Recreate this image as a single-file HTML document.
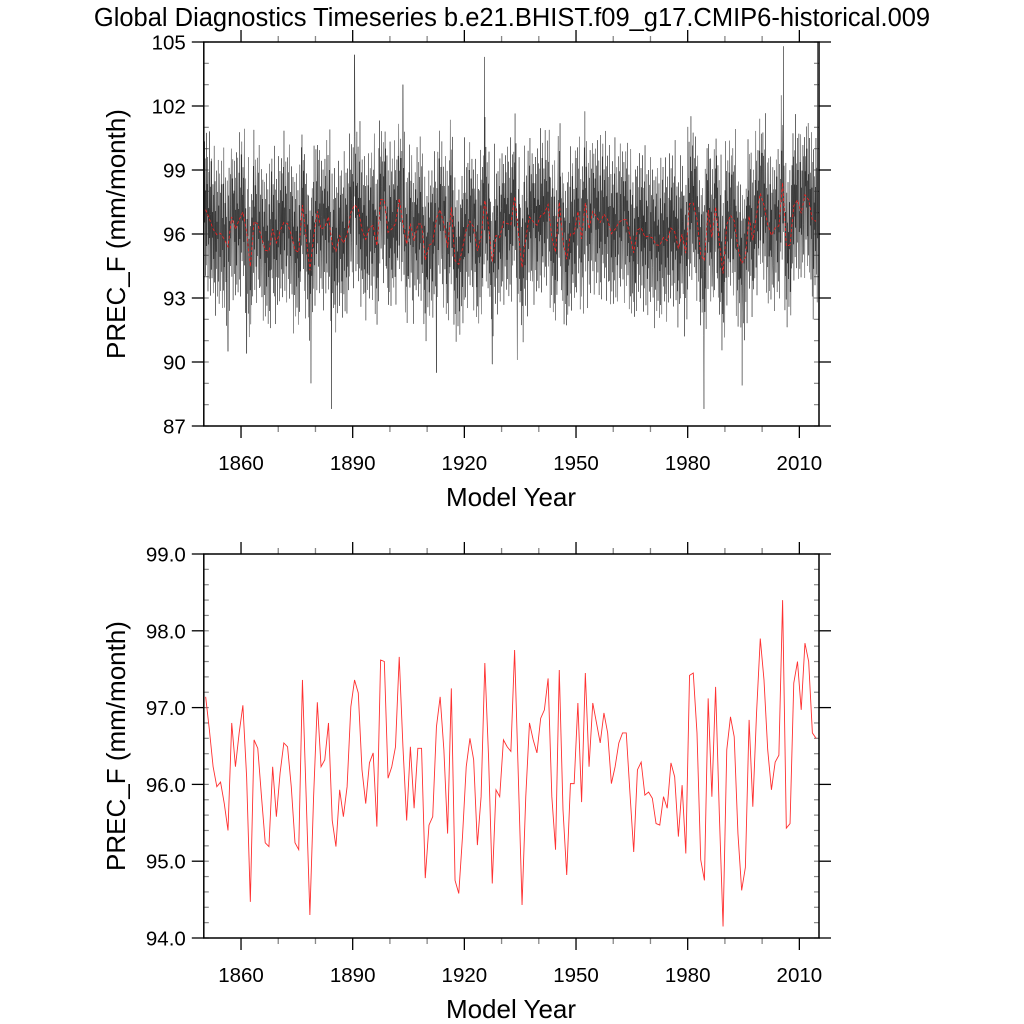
<!DOCTYPE html>
<html><head><meta charset="utf-8">
<style>
html,body{margin:0;padding:0;background:#fff;}
svg{display:block;font-family:"Liberation Sans",Arial,sans-serif;}
</style></head>
<body>
<svg id="c" width="1024" height="1024" viewBox="0 0 1024 1024" xmlns="http://www.w3.org/2000/svg">
<text x="512" y="26" font-size="25.5" text-anchor="middle">Global Diagnostics Timeseries b.e21.BHIST.f09_g17.CMIP6-historical.009</text>
</svg>
<script>
const annual = [97.14,96.71,96.23,95.97,96.03,95.75,95.4,96.8,96.23,96.67,97.03,96.1,94.47,96.58,96.47,95.84,95.24,95.19,96.23,95.58,96.15,96.54,96.49,95.97,95.24,95.15,97.36,95.84,94.3,95.84,97.07,96.23,96.32,96.8,95.53,95.19,95.93,95.58,95.97,97.01,97.36,97.19,96.19,95.75,96.28,96.41,95.45,97.62,97.6,96.08,96.23,96.49,97.66,96.49,95.53,96.49,95.69,96.47,96.47,94.78,95.47,95.58,96.75,97.14,96.45,95.36,97.25,94.75,94.58,95.32,96.23,96.6,96.32,95.21,95.84,97.58,96.36,94.71,95.93,95.84,96.58,96.49,96.43,97.75,96.1,94.43,95.84,96.8,96.58,96.41,96.86,96.97,97.38,95.84,95.15,97.49,95.67,94.82,96.01,96.01,97.06,95.77,97.45,96.23,97.06,96.8,96.54,96.93,96.67,96.01,96.23,96.54,96.67,96.67,95.88,95.12,96.19,96.29,95.86,95.9,95.82,95.49,95.47,95.84,95.69,96.28,96.1,95.32,95.99,95.1,97.42,97.45,96.67,95.02,94.75,97.12,95.84,97.27,95.62,94.15,96.45,96.88,96.62,95.36,94.62,94.92,96.84,95.71,96.93,97.9,97.36,96.45,95.93,96.29,96.38,98.4,95.43,95.49,97.32,97.6,96.97,97.84,97.6,96.67,96.6];
const monthlyOffsets = [1.8,-2.1,3.2,-0.6,2.4,-3.1,0.9,-1.7,3.6,-2.6,1.2,-0.3,2.9,-3.4,0.5,-1.2,2.2,-2.8,4.1,-0.9,1.5,-3.6,0.2,2.7,-1.9,3.3,-2.3,0.8,-0.4,2.1,-3.0,1.6,-1.4,3.9,-2.5,0.3,2.5,-3.8,1.1,-0.8,3.0,-1.6,0.6,-2.9,2.0,-0.2,3.5,-2.2,1.3,-3.3,0.4,2.8,-1.1,1.9,-2.7,0.0,3.4,-1.8,2.3,-3.5,1.0,-0.5,2.6,-2.4,4.3,-1.3,0.7,-3.2,1.7,-0.1,2.9,-2.0,1.4,-3.7,0.9,3.1,-1.5,0.1,-2.6,2.4,-0.7,3.7,-3.0,1.2,-1.0,2.0,-2.3,0.6,3.2,-1.4,-2.8,1.8,-0.3,2.7,-3.9,1.1,0.4];
const spikeYears = [1850.05,1856.5,1861.5,1878.8,1884.3,1890.5,1903.5,1912.5,1925.4,1927.5,1934.2,1984.4,1994.6,2005.7,2013.7,2014.9];
const spikeValues = [102.5,90.5,90.4,89.0,87.8,104.4,103.0,89.5,104.3,89.9,90.1,87.8,88.9,104.8,92.0,105.0];
const yTicksTop = [87,90,93,96,99,102,105];
const yTicksBot = ["94.0","95.0","96.0","97.0","98.0","99.0"];
const xTicks = [1860,1890,1920,1950,1980,2010];

const svg = document.getElementById('c');
const NS = 'http://www.w3.org/2000/svg';
function el(tag, attrs, parent){const e=document.createElementNS(NS,tag);for(const k in attrs)e.setAttribute(k,attrs[k]);(parent||svg).appendChild(e);return e;}
const X0=203.8, X1=819, YR0=1850, YR1=1850+(819-203.8)/3.7222;
const xs = yr => X0+(yr-YR0)/(YR1-YR0)*(X1-X0);

function panel(top, bot, ymin, ymax, majorStep, minorStep, labels, name){
  const ys = v => bot-(v-ymin)/(ymax-ymin)*(bot-top);
  const g = el('g',{});
  
  
  for(let v=ymin; v<=ymax+1e-9; v+=minorStep){
    const y=ys(v);
    el('line',{x1:X0,x2:X0+5,y1:y,y2:y,stroke:'#888','stroke-width':1.2},g);
    el('line',{x1:X1,x2:X1-5,y1:y,y2:y,stroke:'#888','stroke-width':1.2},g);
  }
  labels.forEach(lab=>{
    const v=parseFloat(lab), y=ys(v);
    el('line',{x1:X0-12,x2:X0,y1:y,y2:y,stroke:'#000','stroke-width':1.3},g);
    el('line',{x1:X1,x2:X1+12,y1:y,y2:y,stroke:'#000','stroke-width':1.3},g);
    const t=el('text',{x:X0-18,y:y+7.5,'font-size':20.5,'text-anchor':'end'},g);
    t.textContent=lab;
    
    
  });
  for(let yr=1860; yr<=2010; yr+=10){
    const x=xs(yr), major=(yr-1860)%30===0;
    const L = major?12:6;
    el('line',{x1:x,x2:x,y1:bot,y2:bot+L,stroke:major?'#000':'#888','stroke-width':1.3},g);
    el('line',{x1:x,x2:x,y1:top,y2:top-L,stroke:major?'#000':'#888','stroke-width':1.3},g);
  }
  xTicks.forEach(yr=>{
    const t=el('text',{x:xs(yr),y:bot+44,'font-size':20.5,'text-anchor':'middle'},g);
    t.textContent=String(yr);
    
    
  });
  const xt=el('text',{x:511,y:bot+80,'font-size':26,'text-anchor':'middle'},g);
  xt.textContent='Model Year';
  
  
  const cy=(top+bot)/2;
  const yt=el('text',{x:125,y:cy,'font-size':26,'text-anchor':'middle',transform:'rotate(-90 125 '+cy+')'},g);
  yt.textContent='PREC_F (mm/month)';
  
  
  return {ys,g};
}

const P1 = panel(42,426,87,105,3,1,yTicksTop.map(String),'top-panel');
const cp1 = el('clipPath',{id:'cp1'}); el('rect',{x:X0,y:42,width:X1-X0,height:384},cp1);
let pts=[];
const nM = annual.length*12;
for(let i=0;i<nM;i++){
  const yr = YR0+(i+0.5)/12;
  let v = annual[Math.floor(i/12)] + monthlyOffsets[i%monthlyOffsets.length];
  for(let k=0;k<spikeYears.length;k++){ if(Math.abs(spikeYears[k]-yr)<=1/24+1e-6) v=spikeValues[k]; }
  pts.push(xs(yr).toFixed(2)+','+P1.ys(v).toFixed(2));
}
const ml = el('polyline',{points:pts.join(' '),fill:'none',stroke:'#333','stroke-width':0.5,'clip-path':'url(#cp1)'},P1.g);


const ap1 = annual.map((v,i)=>xs(YR0+i+0.5).toFixed(2)+','+P1.ys(v).toFixed(2)).join(' ');
const al1 = el('polyline',{points:ap1,fill:'none',stroke:'#ff2020','stroke-width':0.8,'stroke-dasharray':'3 2'},P1.g);


el('rect',{x:X0,y:42,width:X1-X0,height:384,fill:'none',stroke:'#000','stroke-width':1.5},P1.g);

const P2 = panel(554,938,94,99,1,0.2,yTicksBot,'bottom-panel');
const ap2 = annual.map((v,i)=>xs(YR0+i+0.5).toFixed(2)+','+P2.ys(v).toFixed(2)).join(' ');
const al2 = el('polyline',{points:ap2,fill:'none',stroke:'#ff3030','stroke-width':0.9},P2.g);


el('rect',{x:X0,y:554,width:X1-X0,height:384,fill:'none',stroke:'#000','stroke-width':1.5},P2.g);
</script>
</body></html>
